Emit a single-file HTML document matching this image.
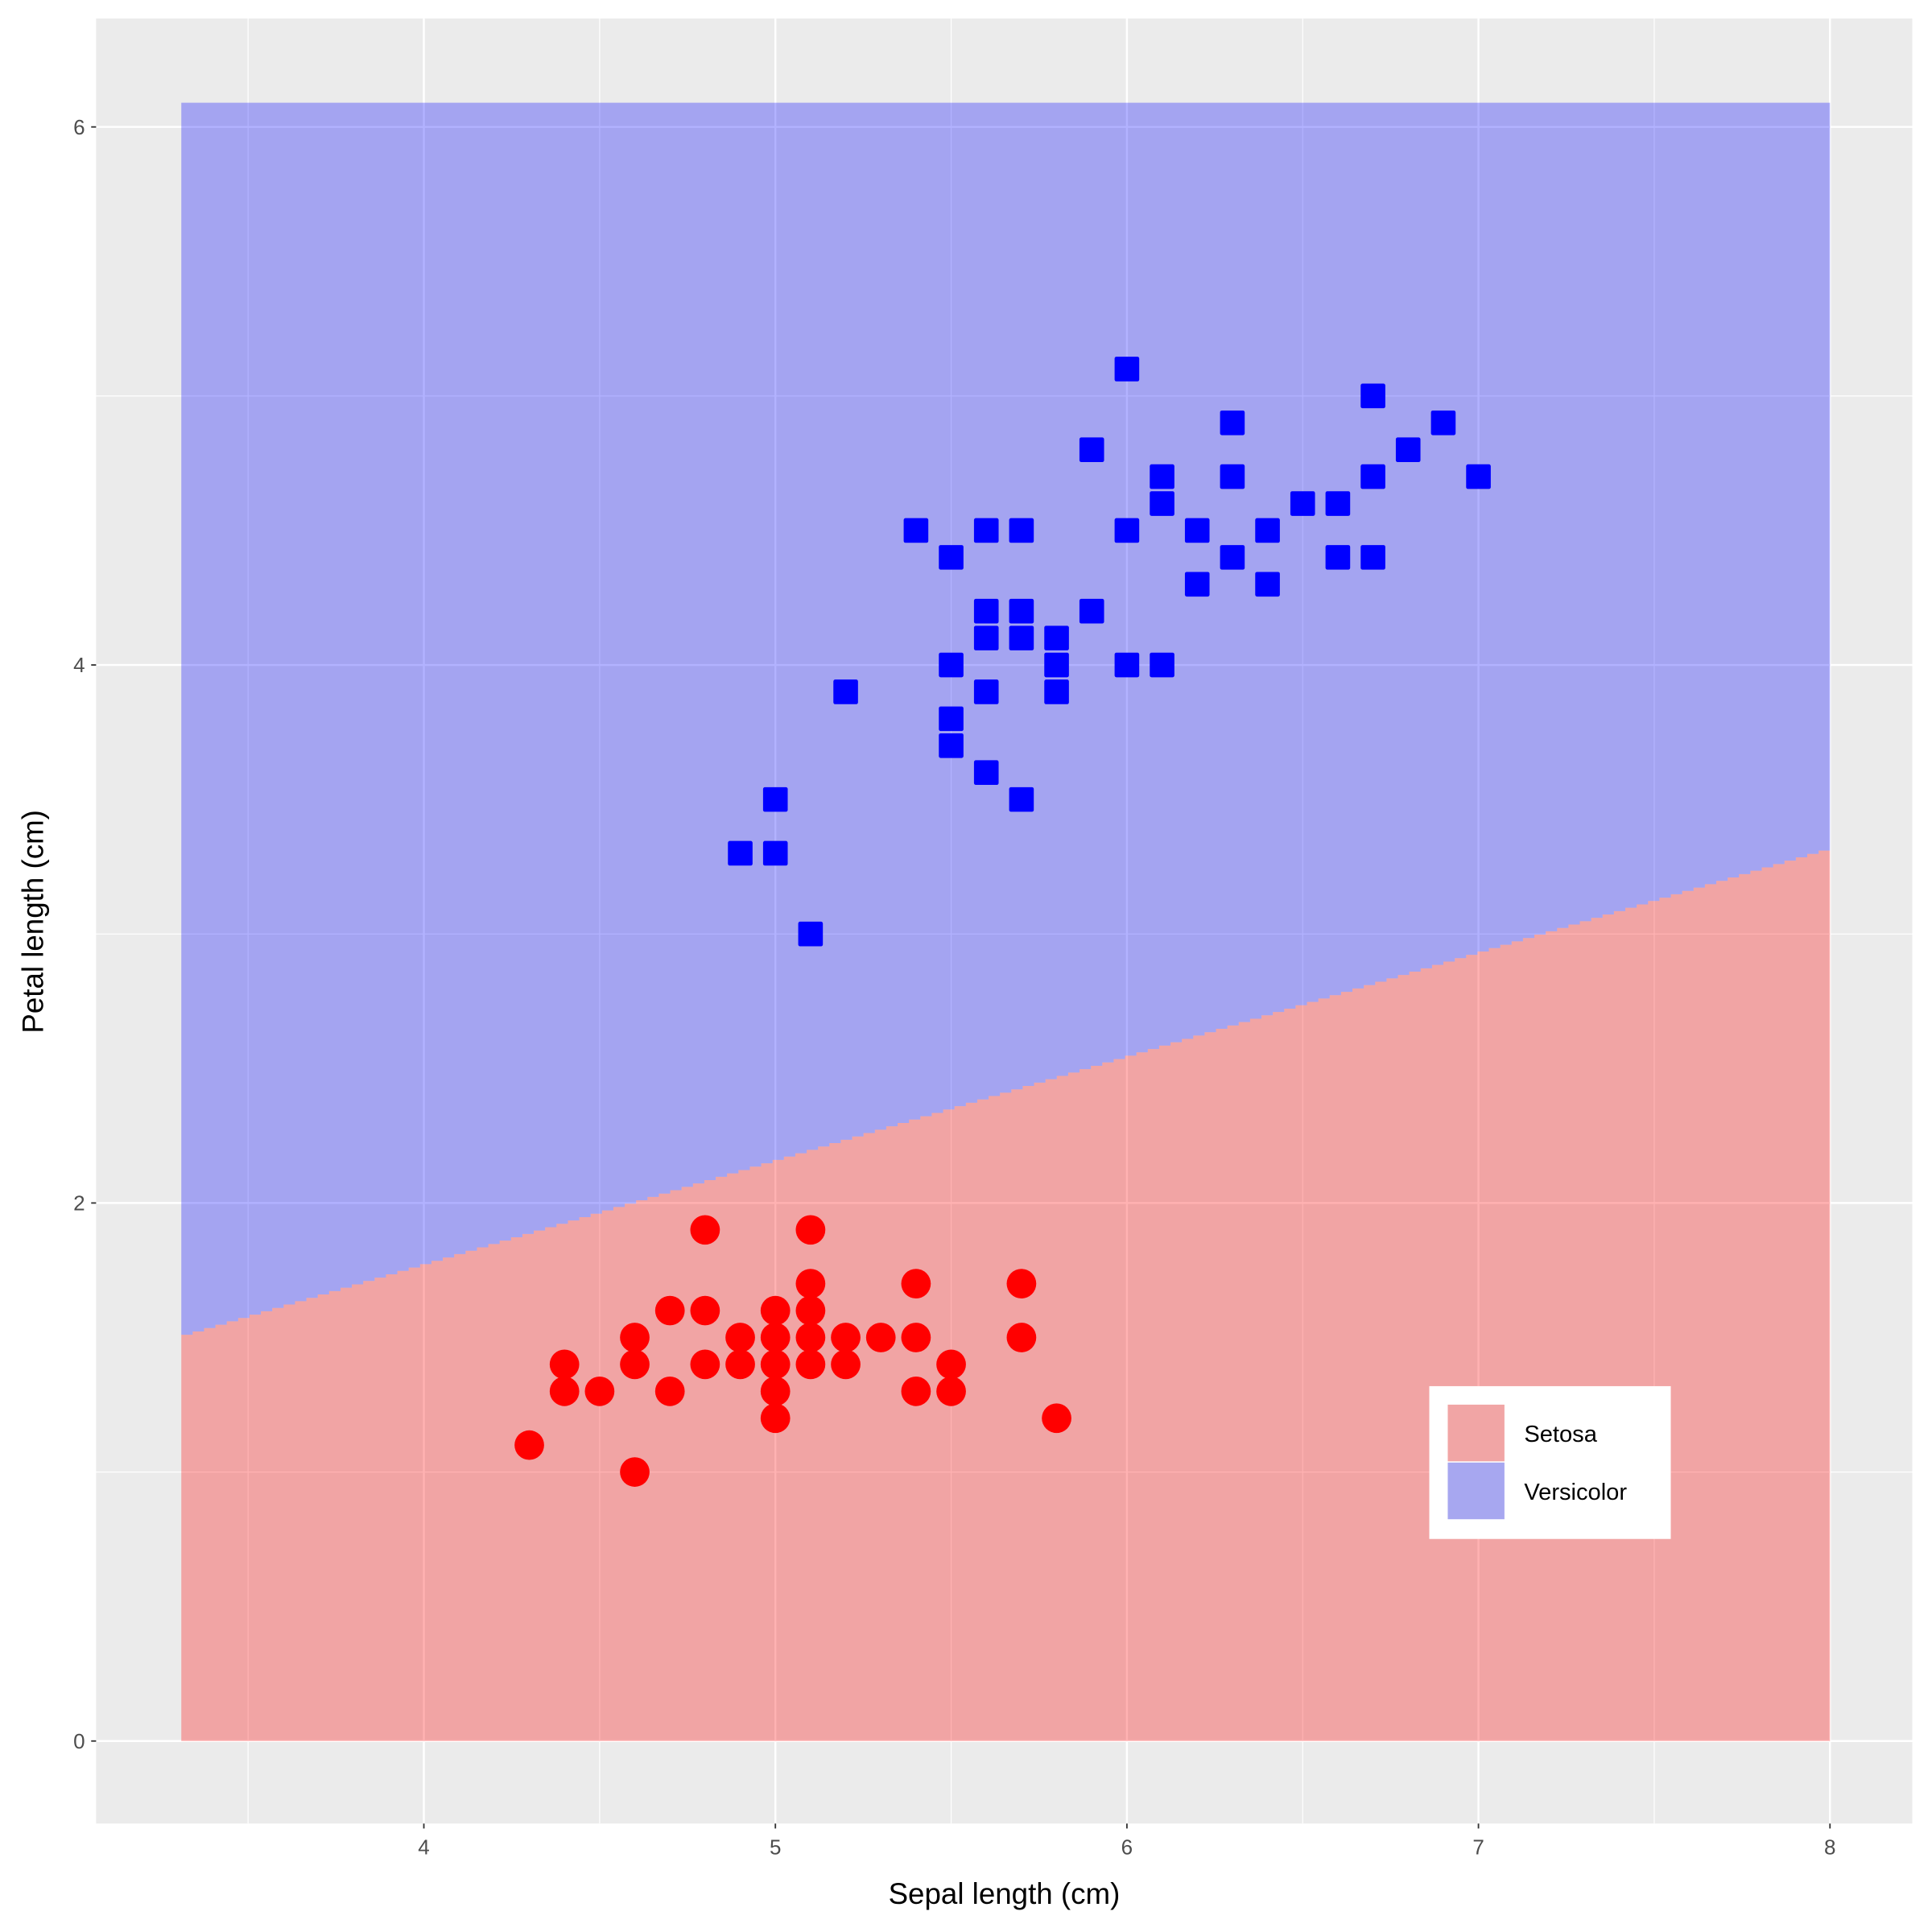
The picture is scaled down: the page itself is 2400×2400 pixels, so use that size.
<!DOCTYPE html>
<html><head><meta charset="utf-8"><style>
html,body{margin:0;padding:0;background:#fff}
svg{display:block}
text{font-family:"Liberation Sans",sans-serif}
</style></head><body>
<svg id="chart" width="2400" height="2400" viewBox="0 0 1568 1568" xmlns="http://www.w3.org/2000/svg">
<rect x="78" y="15" width="1474" height="1465" fill="#EBEBEB"/>
<g id="grid"></g>
<g id="regions"></g>
<g id="points"></g>
<g id="axes"></g>
<text x="815" y="1545" font-size="24" text-anchor="middle" fill="#000">Sepal length (cm)</text>
<text transform="translate(35,748) rotate(-90)" font-size="24" text-anchor="middle" fill="#000">Petal length (cm)</text>
<g>
<rect x="1160" y="1125" width="196" height="124" fill="#fff"/>
<rect x="1175" y="1140" width="46" height="46" fill="#F1A5A5"/>
<rect x="1175" y="1187" width="46" height="46" fill="#A7A7F0"/>
<text x="1237" y="1170" font-size="19" fill="#000">Setosa</text>
<text x="1237" y="1217" font-size="19" fill="#000">Versicolor</text>
</g>
</svg>
<script>
const xTicks = [4,5,6,7,8];
const yTicks = [0,2,4,6];
const xMinor = [3.5,4.5,5.5,6.5,7.5];
const yMinor = [1,3,5];
const regionX = [3.31, 8.0];
const regionYMax = 6.09;
const boundaryY = [1.51, 3.31];
const setosaX = [4.8,5.1,5.1,5.4,5.7,4.7,4.8,5.0,5.1,4.6,4.9,5.0,5.1,5.2,5.3,5.4,5.7,4.4,4.6,4.8,4.9,5.0,5.1,5.2,5.5,4.4,4.5,4.7,5.0,5.4,5.5,5.0,5.8,4.3,4.6];
const setosaY = [1.9,1.9,1.7,1.7,1.7,1.6,1.6,1.6,1.6,1.5,1.5,1.5,1.5,1.5,1.5,1.5,1.5,1.4,1.4,1.4,1.4,1.4,1.4,1.4,1.4,1.3,1.3,1.3,1.3,1.3,1.3,1.2,1.2,1.1,1.0];
const versiX = [6.0,6.7,6.3,6.9,5.9,6.8,6.1,6.3,6.7,7.0,6.1,6.5,6.6,5.4,5.6,5.7,6.0,6.2,6.4,5.5,6.3,6.6,6.7,6.2,6.4,5.6,5.7,5.9,5.6,5.7,5.8,5.5,5.8,6.0,6.1,5.2,5.6,5.8,5.5,5.5,5.6,5.0,5.7,4.9,5.0,5.1];
const versiY = [5.1,5.0,4.9,4.9,4.8,4.8,4.7,4.7,4.7,4.7,4.6,4.6,4.6,4.5,4.5,4.5,4.5,4.5,4.5,4.4,4.4,4.4,4.4,4.3,4.3,4.2,4.2,4.2,4.1,4.1,4.1,4.0,4.0,4.0,4.0,3.9,3.9,3.9,3.8,3.7,3.6,3.5,3.5,3.3,3.3,3.0];

const NS='http://www.w3.org/2000/svg';
const sx = v => 344 + (v-4)*285.3;
const sy = v => 1413 - v*218.33;
function mk(tag, attrs, parent){const e=document.createElementNS(NS,tag);for(const k in attrs)e.setAttribute(k,attrs[k]);parent.appendChild(e);return e;}
const grid=document.getElementById('grid');
xMinor.forEach(v=>{const l=mk('line',{x1:sx(v),x2:sx(v),y1:15,y2:1480,stroke:'#fff','stroke-width':0.8},grid);

});
yMinor.forEach(v=>{const l=mk('line',{x1:78,x2:1552,y1:sy(v),y2:sy(v),stroke:'#fff','stroke-width':0.8},grid);

});
xTicks.forEach(v=>{const l=mk('line',{x1:sx(v),x2:sx(v),y1:15,y2:1480,stroke:'#fff','stroke-width':1.6},grid);

});
yTicks.forEach(v=>{const l=mk('line',{x1:78,x2:1552,y1:sy(v),y2:sy(v),stroke:'#fff','stroke-width':1.6},grid);

});

const reg=document.getElementById('regions');
const N=145;
const stepPts=[];
for(let i=0;i<N;i++){
  const xa=regionX[0]+(regionX[1]-regionX[0])*i/N, xb=regionX[0]+(regionX[1]-regionX[0])*(i+1)/N;
  const yv=boundaryY[0]+(boundaryY[1]-boundaryY[0])*i/(N-1);
  stepPts.push([sx(xa),sy(yv)],[sx(xb),sy(yv)]);
}
const redPts=stepPts.map(p=>p.join(',')).concat([sx(regionX[1])+','+sy(0), sx(regionX[0])+','+sy(0)]).join(' ');
const rp=mk('polygon',{points:redPts,fill:'rgba(255,0,0,0.3)'},reg);


const bp=mk('polygon',{points:[sx(regionX[1])+','+sy(regionYMax), sx(regionX[0])+','+sy(regionYMax), ...stepPts.map(p=>p.join(','))].join(' '),fill:'rgba(0,0,255,0.3)'},reg);



const pts=document.getElementById('points');
setosaX.forEach((x,i)=>{const c=mk('circle',{cx:sx(x),cy:sy(setosaY[i]),r:12,fill:'#FF0000'},pts);

});
versiX.forEach((x,i)=>{const r=mk('rect',{x:sx(x)-10,y:sy(versiY[i])-10,width:20,height:20,rx:1.5,fill:'#0000FF'},pts);

});

const ax=document.getElementById('axes');
xTicks.forEach(v=>{const l=mk('line',{x1:sx(v),x2:sx(v),y1:1480,y2:1484,stroke:'#333','stroke-width':1.2},ax);


const t=mk('text',{x:sx(v),y:1505,'font-size':17,'text-anchor':'middle',fill:'#4D4D4D'},ax);t.textContent=v;

});
yTicks.forEach(v=>{const l=mk('line',{x1:74,x2:78,y1:sy(v),y2:sy(v),stroke:'#333','stroke-width':1.2},ax);


const t=mk('text',{x:69,y:sy(v)+6,'font-size':17,'text-anchor':'end',fill:'#4D4D4D'},ax);t.textContent=v;

});
</script>
</body></html>
